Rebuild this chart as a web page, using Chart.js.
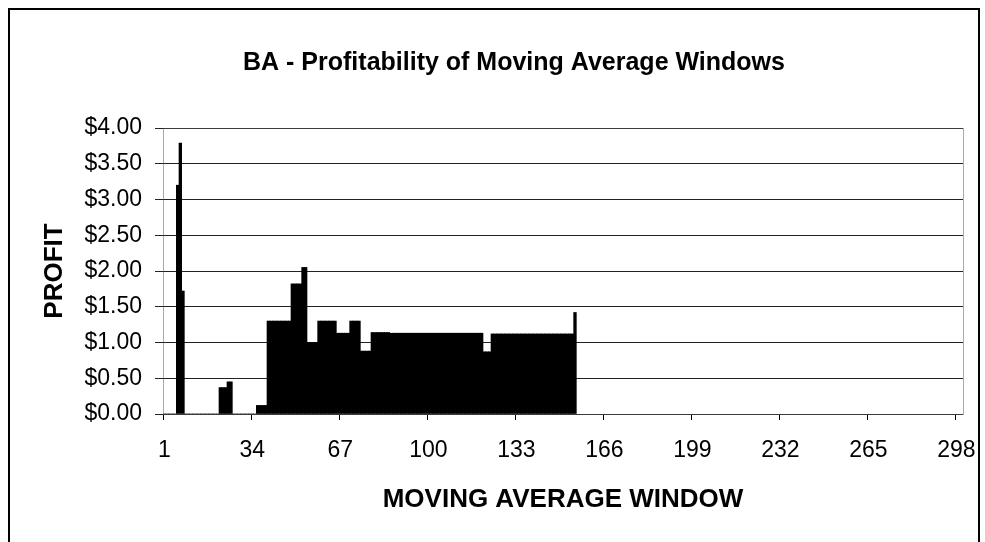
<!DOCTYPE html>
<html>
<head>
<meta charset="utf-8">
<script src="https://cdn.jsdelivr.net/npm/chart.js@4"></script>
<style>
  body { margin: 0; background: #fff; }
</style>
</head>
<body>
<canvas id="chart" width="985" height="542"></canvas>
<script>
// moving average windows 1..300 (axis runs to 300, data ends at 155)
const windows = Array.from({ length: 300 }, (_, i) => i + 1);
const tickLabels = [1, 34, 67, 100, 133, 166, 199, 232, 265, 298];
const yTicks = [0, 0.5, 1, 1.5, 2, 2.5, 3, 3.5, 4];

// profit per window
const profit = [
  0, 0, 0, 0, 0, 3.20, 3.79, 1.72, 0, 0,                          // 1-10
  0, 0, 0, 0, 0, 0, 0, 0, 0, 0,                                   // 11-20
  0, 0.37, 0.37, 0.37, 0.45, 0.45, 0, 0, 0, 0,                    // 21-30
  0, 0, 0, 0, 0, 0.12, 0.12, 0.12, 0.12, 1.30,                    // 31-40
  1.30, 1.30, 1.30, 1.30, 1.30, 1.30, 1.30, 1.30, 1.82, 1.82,     // 41-50
  1.82, 1.82, 2.05, 2.05, 1.00, 1.00, 1.00, 1.00, 1.30, 1.30,     // 51-60
  1.30, 1.30, 1.30, 1.30, 1.30, 1.13, 1.13, 1.13, 1.13, 1.13,     // 61-70
  1.30, 1.30, 1.30, 1.30, 0.88, 0.88, 0.88, 0.88, 1.14, 1.14,     // 71-80
  1.14, 1.14, 1.14, 1.14, 1.14, 1.13, 1.13, 1.13, 1.13, 1.13,     // 81-90
  1.13, 1.13, 1.13, 1.13, 1.13, 1.13, 1.13, 1.13, 1.13, 1.13,     // 91-100
  1.13, 1.13, 1.13, 1.13, 1.13, 1.13, 1.13, 1.13, 1.13, 1.13,     // 101-110
  1.13, 1.13, 1.13, 1.13, 1.13, 1.13, 1.13, 1.13, 1.13, 1.13,     // 111-120
  0.87, 0.87, 0.87, 1.12, 1.12, 1.12, 1.12, 1.12, 1.12, 1.12,     // 121-130
  1.12, 1.12, 1.12, 1.12, 1.12, 1.12, 1.12, 1.12, 1.12, 1.12,     // 131-140
  1.12, 1.12, 1.12, 1.12, 1.12, 1.12, 1.12, 1.12, 1.12, 1.12,     // 141-150
  1.12, 1.12, 1.12, 1.12, 1.42                                    // 151-155
];

const FONT = '"Liberation Sans", Arial, sans-serif';

// dotted plot-area border and the outer chart frame
const frame = {
  id: 'frame',
  afterLayout(chart) {
    // title sits centred on x~514 in the original, not on the canvas centre
    if (chart.titleBlock) chart.titleBlock.left = 65;
  },
  afterDraw(chart) {
    const { ctx, chartArea: a } = chart;
    ctx.save();
    ctx.strokeStyle = '#555';
    ctx.lineWidth = 1;
    ctx.setLineDash([1, 1]);
    ctx.strokeRect(a.left + 0.5, a.top + 0.5, a.right - a.left, a.bottom - a.top);
    ctx.setLineDash([]);
    ctx.strokeStyle = '#000';
    ctx.lineWidth = 2;
    ctx.strokeRect(9, 9, 970, 560);
    ctx.restore();
  }
};

new Chart(document.getElementById('chart'), {
  type: 'bar',
  data: {
    labels: windows,
    datasets: [{
      label: 'Profit',
      data: profit,
      backgroundColor: '#000',
      borderWidth: 0,
      barPercentage: 1,
      categoryPercentage: 1
    }]
  },
  options: {
    responsive: false,
    animation: false,
    layout: { padding: { left: 0, right: 22, top: 0, bottom: 0 } },
    plugins: {
      legend: { display: false },
      tooltip: { enabled: false },
      title: {
        display: true,
        text: 'BA - Profitability of Moving Average Windows',
        color: '#000',
        font: { family: FONT, size: 25, weight: 'bold' },
        padding: { top: 48, bottom: 50 }
      }
    },
    scales: {
      x: {
        afterFit(scale) { scale.height = 128; },
        border: { display: false },
        grid: {
          offset: true,
          drawOnChartArea: false,
          tickLength: 6,
          color: (c) => (c.index % 33 === 0 && c.index < 300) ? '#000' : 'rgba(0,0,0,0)'
        },
        ticks: {
          autoSkip: false,
          maxRotation: 0,
          minRotation: 0,
          padding: 17,
          color: '#000',
          font: { family: FONT, size: 23 },
          callback: function (v, i) {
            const w = windows[i];
            return tickLabels.includes(w) ? String(w) : '';
          }
        },
        title: {
          display: true,
          text: 'MOVING AVERAGE WINDOW',
          color: '#000',
          font: { family: FONT, size: 26, weight: 'bold' },
          padding: { top: 0, bottom: 27 }
        }
      },
      y: {
        min: 0,
        max: 4,
        afterFit(scale) { scale.width = 163; },
        afterBuildTicks(scale) { scale.ticks = yTicks.map(v => ({ value: v })); },
        border: { display: false },
        grid: { color: '#222', lineWidth: 1, tickLength: 8 },
        ticks: {
          padding: 13,
          color: '#000',
          font: { family: FONT, size: 23 },
          callback: (v) => '$' + Number(v).toFixed(2)
        },
        title: {
          display: true,
          text: 'PROFIT',
          color: '#000',
          font: { family: FONT, size: 26, weight: 'bold' },
          padding: { top: 39, bottom: 0 }
        }
      }
    }
  },
  plugins: [frame]
});
</script>
</body>
</html>
